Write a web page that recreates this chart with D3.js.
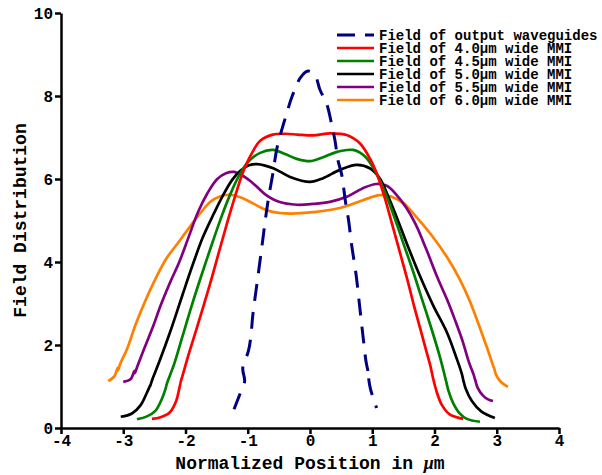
<!DOCTYPE html>
<html>
<head>
<meta charset="utf-8">
<script src="https://d3js.org/d3.v7.min.js"></script>
<style>
  body { margin: 0; background: #fff; }
  svg text { font-family: "Liberation Mono", "Courier New", monospace; font-weight: bold; }
  .axis path, .axis line { stroke: #000; stroke-width: 2.5px; }
</style>
</head>
<body>
<svg class="field-chart" width="602" height="475"></svg>
<script>
// tick values
var xTicks = [-4, -3, -2, -1, 0, 1, 2, 3, 4];
var yTicks = [0, 2, 4, 6, 8, 10];

// series, [position in um, field]
var waveguide = [[-1.22,0.45],[-1.13,0.8],[-1.05,1.12],[-1.08,1.45],[-0.99,1.85],[-0.95,2.2],[-0.92,2.7],[-0.85,3.5],[-0.77,4.4],[-0.71,5.1],[-0.66,5.6],[-0.6,6.1],[-0.53,6.75],[-0.46,7.15],[-0.38,7.55],[-0.29,7.98],[-0.15,8.45],[-0.03,8.6],[0.08,8.5],[0.16,8.15],[0.27,7.8],[0.35,7.3],[0.4,6.94],[0.45,6.45],[0.51,6.1],[0.57,5.45],[0.62,5.0],[0.67,4.4],[0.74,3.7],[0.8,2.9],[0.86,2.1],[0.9,1.6],[0.93,1.38],[0.95,1.2],[0.94,1.24],[0.97,0.95],[1.07,0.48]];

var mmi40 = [[-2.54,0.22],[-2.4,0.26],[-2.25,0.38],[-2.15,0.65],[-2.1,0.95],[-2.07,1.15],[-2.08,1.1],[-2.04,1.3],[-1.96,1.72],[-1.82,2.4],[-1.61,3.45],[-1.47,4.2],[-1.33,4.95],[-1.2,5.6],[-1.08,6.15],[-0.96,6.55],[-0.8,6.92],[-0.6,7.07],[-0.4,7.09],[-0.2,7.07],[0.05,7.05],[0.32,7.1],[0.59,7.06],[0.8,6.86],[0.96,6.5],[1.08,6.1],[1.2,5.55],[1.33,4.85],[1.45,4.2],[1.56,3.6],[1.67,2.95],[1.77,2.4],[1.86,1.9],[1.93,1.52],[1.96,1.32],[1.955,1.36],[1.98,1.18],[2.04,0.85],[2.12,0.55],[2.25,0.32],[2.46,0.22]];

var mmi45 = [[-2.78,0.21],[-2.62,0.28],[-2.48,0.42],[-2.38,0.7],[-2.32,0.95],[-2.3,1.06],[-2.31,1.02],[-2.28,1.15],[-2.18,1.55],[-2.05,2.2],[-1.9,2.95],[-1.75,3.65],[-1.56,4.5],[-1.42,5.1],[-1.29,5.6],[-1.15,6.05],[-1.0,6.4],[-0.8,6.63],[-0.59,6.7],[-0.4,6.6],[-0.2,6.48],[0,6.43],[0.2,6.52],[0.45,6.66],[0.69,6.7],[0.88,6.55],[1.05,6.18],[1.2,5.7],[1.35,5.1],[1.5,4.45],[1.65,3.8],[1.8,3.1],[1.96,2.35],[2.08,1.75],[2.15,1.35],[2.19,1.1],[2.185,1.14],[2.22,0.92],[2.3,0.6],[2.4,0.36],[2.52,0.22],[2.73,0.15]];

var mmi50 = [[-3.04,0.27],[-2.86,0.35],[-2.72,0.55],[-2.62,0.85],[-2.56,1.05],[-2.57,1.0],[-2.53,1.18],[-2.42,1.6],[-2.25,2.3],[-2.05,3.2],[-1.88,3.95],[-1.72,4.6],[-1.55,5.15],[-1.4,5.6],[-1.25,5.98],[-1.12,6.2],[-0.98,6.33],[-0.85,6.36],[-0.59,6.26],[-0.32,6.05],[0,5.93],[0.21,6.02],[0.48,6.22],[0.75,6.34],[0.96,6.26],[1.12,6.02],[1.25,5.6],[1.4,5.05],[1.58,4.35],[1.77,3.65],[1.98,2.95],[2.2,2.3],[2.35,1.7],[2.44,1.3],[2.47,1.1],[2.465,1.14],[2.5,0.95],[2.6,0.65],[2.75,0.4],[2.97,0.24]];

var mmi55 = [[-3.0,1.11],[-2.88,1.18],[-2.82,1.38],[-2.815,1.32],[-2.77,1.5],[-2.68,1.85],[-2.52,2.45],[-2.4,2.95],[-2.25,3.5],[-2.1,4.0],[-1.95,4.6],[-1.8,5.2],[-1.65,5.65],[-1.49,6.0],[-1.35,6.14],[-1.22,6.17],[-1.05,6.05],[-0.88,5.85],[-0.72,5.63],[-0.5,5.45],[-0.21,5.38],[0.05,5.4],[0.32,5.45],[0.59,5.57],[0.85,5.78],[1.07,5.88],[1.24,5.83],[1.4,5.6],[1.55,5.3],[1.7,4.9],[1.87,4.3],[2.04,3.65],[2.2,3.1],[2.33,2.6],[2.45,2.1],[2.55,1.6],[2.63,1.28],[2.66,1.12],[2.655,1.16],[2.69,0.98],[2.78,0.78],[2.86,0.69],[2.94,0.65]];

var mmi60 = [[-3.24,1.13],[-3.14,1.25],[-3.09,1.45],[-3.085,1.39],[-3.04,1.58],[-2.94,1.9],[-2.8,2.5],[-2.65,3.05],[-2.48,3.6],[-2.3,4.1],[-2.1,4.5],[-1.93,4.85],[-1.75,5.2],[-1.6,5.45],[-1.45,5.58],[-1.29,5.62],[-1.1,5.55],[-0.9,5.4],[-0.7,5.25],[-0.48,5.18],[-0.21,5.17],[0.05,5.2],[0.48,5.3],[0.85,5.49],[1.12,5.61],[1.3,5.58],[1.5,5.42],[1.7,5.1],[1.95,4.65],[2.2,4.12],[2.4,3.6],[2.57,3.05],[2.72,2.45],[2.84,1.95],[2.92,1.6],[2.96,1.42],[2.955,1.46],[2.99,1.28],[3.06,1.12],[3.18,0.99]];

var seriesNames = ["Field of output waveguides", "Field of 4.0\u03bcm wide MMI", "Field of 4.5\u03bcm wide MMI",
    "Field of 5.0\u03bcm wide MMI", "Field of 5.5\u03bcm wide MMI", "Field of 6.0\u03bcm wide MMI"];
var seriesColors = ["#000080", "#ff0000", "#008000", "#000000", "#800080", "#ff7f00"];
var seriesData = [waveguide, mmi40, mmi45, mmi50, mmi55, mmi60];

var svg = d3.select(".field-chart"),
    margin = {top: 13, right: 43, bottom: 47, left: 61},
    width = +svg.attr("width") - margin.left - margin.right,
    height = +svg.attr("height") - margin.top - margin.bottom,
    g = svg.append("g").attr("transform", "translate(" + margin.left + "," + margin.top + ")");

var x = d3.scaleLinear().domain([-4, 4]).range([0, width]);
var y = d3.scaleLinear().domain([0, 10]).range([height, 0]);

var line = d3.line()
    .curve(d3.curveCatmullRom.alpha(0.5))
    .x(function (d) { return x(d[0]); })
    .y(function (d) { return y(d[1]); });

// draw the MMI curves first, dashed waveguide on top
[5, 4, 3, 2, 1, 0].forEach(function (i) {
    g.append("path")
        .datum(seriesData[i])
        .attr("fill", "none")
        .attr("stroke", seriesColors[i])
        .attr("stroke-width", i === 0 ? 3 : 2.7)
        .attr("stroke-dasharray", i === 0 ? "17,11" : null)
        .attr("d", line);
});

g.append("g")
    .attr("class", "axis")
    .attr("transform", "translate(0," + height + ")")
    .call(d3.axisBottom(x).tickValues(xTicks).tickSize(6).tickSizeOuter(0).tickPadding(1)
        .tickFormat(function (d) { return String(d); }))
    .selectAll("text")
    .attr("fill", "#000")
    .style("font-size", "16px");

g.append("g")
    .attr("class", "axis")
    .call(d3.axisLeft(y).tickValues(yTicks).tickSize(6).tickSizeOuter(0).tickPadding(2))
    .selectAll("text")
    .attr("fill", "#000")
    .style("font-size", "16px");

// axis titles
var xTitle = svg.append("text")
    .attr("x", margin.left + x(0))
    .attr("y", 469)
    .attr("text-anchor", "middle")
    .style("font-size", "18px")
    .text("Normalized Position in ");
xTitle.append("tspan").style("font-family", "'Liberation Serif', serif").style("font-style", "italic").text("\u03bc");
xTitle.append("tspan").text("m");

svg.append("text")
    .attr("transform", "translate(26," + (margin.top + y(5)) + ") rotate(-90)")
    .attr("text-anchor", "middle")
    .style("font-size", "18px")
    .text("Field Distribution");

// legend
var legend = svg.append("g").attr("transform", "translate(337,35)");
seriesNames.forEach(function (name, i) {
    var row = legend.append("g").attr("transform", "translate(0," + (i * 13) + ")");
    row.append("line")
        .attr("x1", 0).attr("x2", 37)
        .attr("stroke", seriesColors[i])
        .attr("stroke-width", i === 0 ? 3 : 2.5)
        .attr("stroke-dasharray", i === 0 ? "18,10" : null);
    row.append("text")
        .attr("x", 42)
        .attr("y", 4.5)
        .style("font-size", "14px")
        .text(name);
});
</script>
</body>
</html>
